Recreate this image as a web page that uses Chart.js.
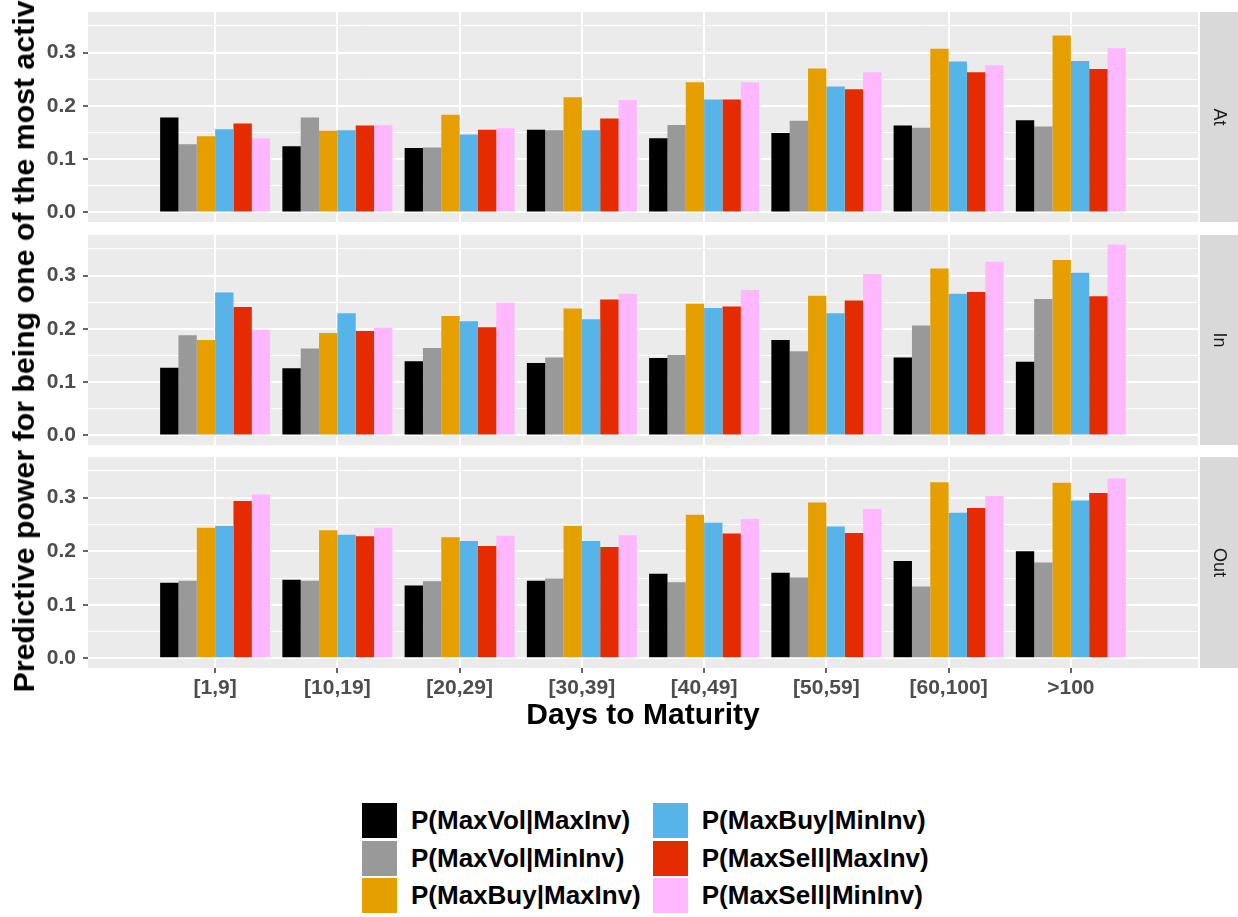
<!DOCTYPE html>
<html>
<head>
<meta charset="utf-8">
<script src="https://cdn.jsdelivr.net/npm/chart.js@4.4.1/dist/chart.umd.min.js"></script>
<style>
  html, body { margin: 0; padding: 0; background: #fff; }
  body { width: 1238px; height: 917px; position: relative; overflow: hidden; font-family: "Liberation Sans", Arial, sans-serif; }
  canvas { position: absolute; left: 0; }
  #ytitle { position: absolute; left: 24px; top: 338px; transform: translate(-50%, -50%) rotate(-90deg);
            font-weight: bold; font-size: 30.3px; white-space: nowrap; color: #000; }
  #legend { position: absolute; left: 362px; top: 803px; display: grid; grid-template-rows: repeat(3, 35px);
            grid-auto-flow: column; column-gap: 12px; row-gap: 2.5px; }
  .key { display: flex; align-items: center; font-weight: bold; font-size: 26px; color: #000; white-space: nowrap; }
  .key .box { width: 35px; height: 35px; margin-right: 14px; }
</style>
</head>
<body>
<canvas id="pAt" width="1238" height="250" style="top:-8px"></canvas>
<canvas id="pIn" width="1238" height="250" style="top:215px"></canvas>
<canvas id="pOut" width="1238" height="297" style="top:437px"></canvas>
<div id="ytitle">Predictive power for being one of the most active</div>
<div id="legend"></div>
<script>
const categories = ['[1,9]', '[10,19]', '[20,29]', '[30,39]', '[40,49]', '[50,59]', '[60,100]', '>100'];
const seriesNames = ['P(MaxVol|MaxInv)', 'P(MaxVol|MinInv)', 'P(MaxBuy|MaxInv)',
                     'P(MaxBuy|MinInv)', 'P(MaxSell|MaxInv)', 'P(MaxSell|MinInv)'];
const seriesColors = ['#000000', '#999999', '#E69F00', '#56B4E9', '#E52B00', '#FFB8FF'];

// one row per series, one value per maturity bucket
const atValues = [
  [0.178, 0.124, 0.121, 0.155, 0.139, 0.149, 0.163, 0.173],
  [0.128, 0.178, 0.122, 0.154, 0.164, 0.172, 0.159, 0.161],
  [0.143, 0.153, 0.183, 0.216, 0.244, 0.270, 0.307, 0.332],
  [0.156, 0.154, 0.146, 0.154, 0.212, 0.236, 0.283, 0.284],
  [0.167, 0.163, 0.155, 0.176, 0.212, 0.231, 0.263, 0.269],
  [0.139, 0.164, 0.158, 0.211, 0.244, 0.263, 0.276, 0.308]
];
const inValues = [
  [0.127, 0.126, 0.139, 0.136, 0.145, 0.179, 0.146, 0.138],
  [0.188, 0.163, 0.164, 0.146, 0.151, 0.158, 0.206, 0.256],
  [0.179, 0.192, 0.224, 0.238, 0.247, 0.262, 0.313, 0.329],
  [0.268, 0.229, 0.214, 0.218, 0.239, 0.229, 0.266, 0.305],
  [0.241, 0.196, 0.203, 0.255, 0.242, 0.253, 0.269, 0.261],
  [0.198, 0.202, 0.249, 0.266, 0.273, 0.303, 0.326, 0.358]
];
const outValues = [
  [0.141, 0.147, 0.136, 0.145, 0.158, 0.160, 0.182, 0.200],
  [0.145, 0.145, 0.144, 0.149, 0.142, 0.151, 0.134, 0.179],
  [0.244, 0.239, 0.226, 0.247, 0.268, 0.291, 0.329, 0.328],
  [0.247, 0.231, 0.219, 0.219, 0.253, 0.246, 0.272, 0.295],
  [0.294, 0.228, 0.210, 0.208, 0.233, 0.234, 0.281, 0.309],
  [0.306, 0.244, 0.229, 0.230, 0.260, 0.279, 0.303, 0.336]
];

const FONT = '"Liberation Sans", Arial, sans-serif';
const isMajor = v => Math.round(v * 100) % 10 === 0;

// grey panel background like ggplot
const panelBg = {
  id: 'panelBg',
  beforeDraw(chart) {
    const a = chart.chartArea, ctx = chart.ctx;
    ctx.save();
    ctx.fillStyle = '#EBEBEB';
    ctx.fillRect(a.left, a.top, a.right - a.left, a.bottom - a.top);
    ctx.restore();
  }
};

// facet strip on the right
function makeStrip(label) {
  return {
    id: 'strip',
    afterDraw(chart) {
      const a = chart.chartArea, ctx = chart.ctx;
      ctx.save();
      ctx.fillStyle = '#D9D9D9';
      ctx.fillRect(a.right + 2, a.top, 38, a.bottom - a.top);
      ctx.translate(a.right + 21, (a.top + a.bottom) / 2);
      ctx.rotate(Math.PI / 2);
      ctx.fillStyle = '#1A1A1A';
      ctx.font = '18px ' + FONT;
      ctx.textAlign = 'center';
      ctx.textBaseline = 'middle';
      ctx.fillText(label, 0, 0);
      ctx.restore();
    }
  };
}

function makePanel(canvasId, label, rows, isBottom) {
  const datasets = seriesNames.map((name, s) => ({
    label: name,
    data: rows[s].map((v, i) => ({ x: i, y: v })),
    backgroundColor: seriesColors[s],
    borderWidth: 0,
    categoryPercentage: 0.9,
    barPercentage: 1.0
  }));

  new Chart(document.getElementById(canvasId), {
    type: 'bar',
    data: { datasets: datasets },
    options: {
      responsive: false,
      animation: false,
      layout: { padding: { top: 20, bottom: isBottom ? 0 : 20, left: 0, right: 40 } },
      plugins: { legend: { display: false }, tooltip: { enabled: false } },
      scales: {
        x: {
          type: 'linear',
          min: -1.04,
          max: 8.04,
          offset: false,
          afterBuildTicks: sc => { sc.ticks = categories.map((c, i) => ({ value: i })); },
          afterFit: sc => { sc.height = isBottom ? 66 : 0; },
          grid: { offset: false, color: '#FFFFFF', lineWidth: 2, drawTicks: isBottom,
                  tickLength: 5, tickColor: '#333333', tickWidth: 1.5 },
          border: { display: false },
          ticks: {
            display: isBottom, padding: 3, color: '#4D4D4D', autoSkip: false, maxRotation: 0,
            font: { family: FONT, size: 21, weight: 'bold' },
            callback: v => categories[v]
          },
          title: {
            display: isBottom, text: 'Days to Maturity', color: '#000000', padding: 0,
            font: { family: FONT, size: 30, weight: 'bold' }
          }
        },
        y: {
          min: -0.018,
          max: 0.376,
          afterFit: sc => { sc.width = 88; },
          grid: {
            color: '#FFFFFF',
            lineWidth: c => (c.tick && isMajor(c.tick.value)) ? 2 : 1,
            tickLength: 5,
            tickWidth: 1.5,
            tickColor: c => (c.tick && isMajor(c.tick.value)) ? '#333333' : 'rgba(0,0,0,0)'
          },
          border: { display: false },
          ticks: {
            stepSize: 0.05, includeBounds: false, padding: 7, color: '#4D4D4D',
            font: { family: FONT, size: 21, weight: 'bold' },
            callback: v => isMajor(v) ? v.toFixed(1) : ''
          }
        }
      }
    },
    plugins: [panelBg, makeStrip(label)]
  });
}

makePanel('pAt', 'At', atValues, false);
makePanel('pIn', 'In', inValues, false);
makePanel('pOut', 'Out', outValues, true);

// legend, filled column by column
const legend = document.getElementById('legend');
seriesNames.forEach((name, s) => {
  const item = document.createElement('div');
  item.className = 'key';
  const box = document.createElement('span');
  box.className = 'box';
  box.style.background = seriesColors[s];
  item.appendChild(box);
  item.appendChild(document.createTextNode(name));
  legend.appendChild(item);
});
</script>
</body>
</html>
